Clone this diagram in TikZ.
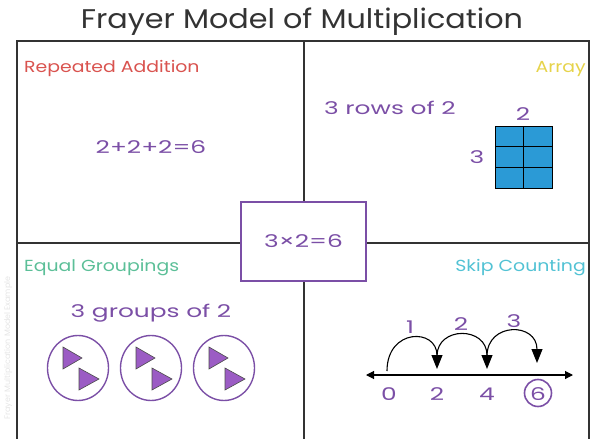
\documentclass[tikz,border=0pt]{standalone}
\usepackage{fontspec}
\setmainfont{Poppins}
\newfontfamily\pwide{Poppins}[FakeStretch=1.42]
\newfontfamily\hwide{Poppins}[FakeStretch=1.18]
\newfontfamily\twide{Poppins}[FakeStretch=1.12]
\usetikzlibrary{arrows.meta,shapes.geometric}
\definecolor{frame}{HTML}{333333}
\definecolor{purp}{HTML}{7B4FA6}
\definecolor{redl}{HTML}{D9534F}
\definecolor{yell}{HTML}{E6D34A}
\definecolor{greenl}{HTML}{5CBF98}
\definecolor{cyanl}{HTML}{52C2D4}
\definecolor{cellblue}{HTML}{2B9AD6}
\definecolor{trifill}{HTML}{9B5CC4}
\tikzset{
  framel/.style={draw=frame,line width=1.3pt},
  heading/.style={font=\hwide\fontsize{16}{16}\selectfont,inner sep=0pt},
  ptext/.style={text=purp,font=\pwide\fontsize{17.5}{17.5}\selectfont,inner sep=0pt},
  cell/.style={draw=black,fill=cellblue,line width=1pt},
  grp/.style={draw=purp,line width=1.4pt,ellipse,minimum width=61pt,minimum height=65pt,inner sep=0pt},
  tri/.style={fill=trifill,draw=black!70,line width=0.6pt},
  jump/.style={line width=1.1pt,-{Triangle[width=11pt,length=14pt]}},
}
\begin{document}
\begin{tikzpicture}[x=1pt,y=-1pt]
\useasboundingbox (0,0) rectangle (598,439);
% title
\node[font=\twide\fontsize{27}{27}\selectfont,text=frame,inner sep=0pt] (title) at (302,22) {Frayer Model of Multiplication};
% watermark
\node[rotate=90,text=black!10,font=\fontsize{8}{8}\selectfont,inner sep=0pt] (wm) at (8,348) {Frayer Multiplication Model Example};
% frame
\draw[framel] (17,450) -- (17,41) -- (589,41) -- (589,450);
\draw[framel] (304,41) -- (304,450);
\draw[framel] (17,243) -- (589,243);
% center box
\node[draw=purp,line width=1.6pt,fill=white,minimum width=125pt,minimum height=79pt,text=purp,font=\pwide\fontsize{17.5}{17.5}\selectfont] (center) at (303.5,241.5) {3×2=6};
% quadrant 1
\node[heading,text=redl,anchor=west] (ra) at (24,68) {Repeated Addition};
\node[ptext] (eq) at (151,147) {2+2+2=6};
% quadrant 2
\node[heading,text=yell,anchor=east] (arr) at (586,69) {Array};
\node[ptext,anchor=west] (rows) at (324,108) {3 rows of 2};
\foreach \c in {0,1} \foreach \r in {0,1,2}
  \draw[cell] (495+\c*28.5,126+\r*20.7) rectangle ++(28.5,20.7);
\node[ptext] (two) at (523,114) {2};
\node[ptext] (three) at (477,157) {3};
% quadrant 3
\node[heading,text=greenl,anchor=west] (eg) at (24,268) {Equal Groupings};
\node[ptext] (groups) at (151,313) {3 groups of 2};
\foreach \x/\n in {78/g1,151/g2,224/g3}{
  \node[grp] (\n) at (\x,368) {};
  \draw[tri] (\x-15,347) -- (\x+4,358) -- (\x-15,369) -- cycle;
  \draw[tri] (\x+1,368) -- (\x+21,379) -- (\x+1,390) -- cycle;
}
% quadrant 4
\node[heading,text=cyanl,anchor=east] (sc) at (586,268) {Skip Counting};
\coordinate (la) at (366,375);
\coordinate (lb) at (573,375);
\draw[line width=1.1pt,{Triangle[width=8pt,length=8pt]}-{Triangle[width=8pt,length=8pt]}] (la) -- (lb);
\node[ptext] (n0) at (389,394) {0};
\node[ptext] (n2) at (437,394) {2};
\node[ptext] (n4) at (487,394) {4};
\node[ptext] (n6) at (538,394) {6};
\node[draw=purp,circle,line width=1.6pt,minimum size=27pt,inner sep=0pt] (c6) at (538,393) {};
\coordinate (a0) at (387,371);
\coordinate (a1) at (437,369);
\coordinate (b0) at (437,356);
\coordinate (b1) at (487,369);
\coordinate (c0) at (487,356);
\coordinate (c1) at (537,363);
\draw[jump] (a0) .. controls (387,328) and (437,328) .. (a1);
\draw[jump] (b0) .. controls (437,326) and (487,326) .. (b1);
\draw[jump] (c0) .. controls (487,322) and (537,322) .. (c1);
\node[ptext] (j1) at (410,327) {1};
\node[ptext] (j2) at (461,324) {2};
\node[ptext] (j3) at (514,321) {3};
\end{tikzpicture}
\end{document}
